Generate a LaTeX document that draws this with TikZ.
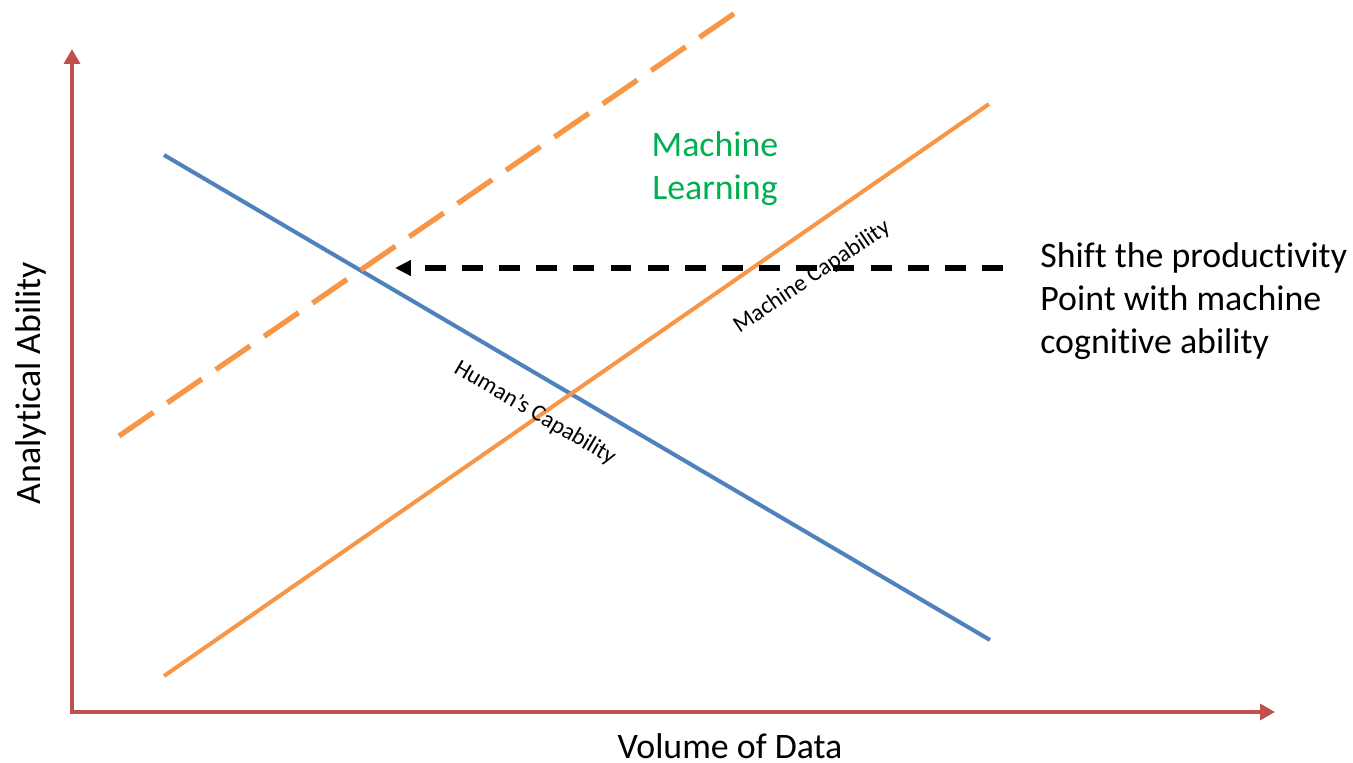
\documentclass[tikz,border=0pt]{standalone}
\usepackage{fontspec}
\setmainfont{Carlito}[Ligatures=NoCommon]
\usetikzlibrary{arrows.meta}

\definecolor{axisred}{HTML}{C0504D}
\definecolor{humanblue}{HTML}{4F81BD}
\definecolor{machineorange}{HTML}{F79646}
\definecolor{mlgreen}{HTML}{00B050}

\begin{document}
\begin{tikzpicture}[x=0.02cm, y=-0.02cm,
    axisline/.style={axisred, line width=2.8pt,
      {Triangle[length=8.5pt,width=9pt]}-{Triangle[length=8.5pt,width=9pt]}},
    capline/.style={line width=2.3pt},
    biglabel/.style={font=\fontsize{20.4}{24.4}\selectfont, inner sep=0pt},
    smalllabel/.style={font=\fontsize{13.4}{16}\selectfont, inner sep=0pt}]
  \useasboundingbox (0, 0) rectangle (1353, 763);

  % axes
  \coordinate (O) at (72, 712);
  \coordinate (ytip) at (72, 49);
  \coordinate (xtip) at (1275, 712);
  \draw[axisline] (ytip) -- (O) -- (xtip);
  \node[biglabel, rotate=90] (ylab) at (31, 383) {Analytical Ability};
  \node[biglabel] (xlab) at (730, 746) {Volume of Data};

  % capability lines
  \coordinate (h1) at (164, 155);
  \coordinate (h2) at (990, 640);
  \coordinate (m1) at (164, 676);
  \coordinate (m2) at (989, 104);
  \coordinate (s1) at (119, 436);
  \coordinate (s2) at (735, 13);
  \draw[capline, humanblue] (h1) -- (h2);
  \draw[capline, machineorange] (m1) -- (m2);
  \draw[machineorange, line width=3pt, dash pattern=on 23.8pt off 9.6pt] (s1) -- (s2);

  \node[smalllabel, rotate=-30.4] (hlab) at (535, 413) {Human’s Capability};
  \node[smalllabel, rotate=34] (mlab) at (812, 277) {Machine Capability};

  % productivity shift
  \coordinate (a1) at (1003, 268);
  \coordinate (a2) at (395, 268);
  \draw[line width=3.1pt, dash pattern=on 11.9pt off 9.25pt,
    -{Triangle[length=9pt,width=8.5pt]}] (a1) -- (a2);

  \node[biglabel, text=mlgreen, align=center] (ml) at (715, 169) {Machine\\Learning};
  \node[biglabel, anchor=west, align=left] (shift) at (1040, 301)
    {Shift the productivity\\Point with machine\\cognitive ability};
\end{tikzpicture}
\end{document}
